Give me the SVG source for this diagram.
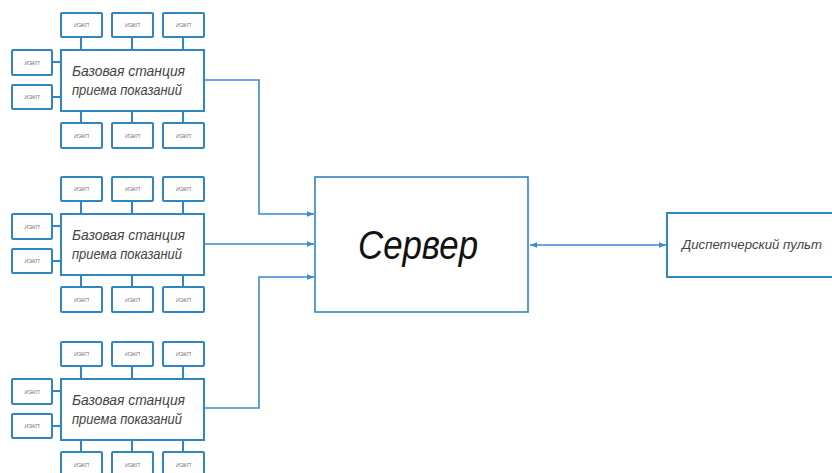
<svg xmlns="http://www.w3.org/2000/svg" width="832" height="473" viewBox="0 0 832 473">
<defs>
<style>
.box{fill:#fff;stroke:#2f86c0;stroke-width:2}
.sm{fill:#fff;stroke:#2f86c0;stroke-width:2}
.ln{fill:none;stroke:#2f86c0;stroke-width:2}
.cn{fill:none;stroke:#3a8ad4;stroke-width:1.6}
.st{font-family:"Liberation Sans",Arial,sans-serif;font-style:italic;font-size:15px;fill:#444;text-anchor:middle}
.tiny{font-family:"Liberation Sans",Arial,sans-serif;font-style:italic;font-size:5.5px;fill:#777;text-anchor:middle}
.srv{font-family:"Liberation Sans",Arial,sans-serif;font-style:italic;font-size:40px;fill:#111;text-anchor:middle}
.dp{font-family:"Liberation Sans",Arial,sans-serif;font-style:italic;font-size:12px;fill:#444}
</style>
<marker id="ah" viewBox="0 0 10 10" refX="10" refY="5" markerWidth="7" markerHeight="7" markerUnits="userSpaceOnUse" orient="auto-start-reverse">
<path d="M0,1 L10,5 L0,9 Z" fill="#3a8ad4"/>
</marker>
<g id="sub">
<line class="ln" x1="20" y1="24" x2="20" y2="37"/>
<line class="ln" x1="71" y1="24" x2="71" y2="37"/>
<line class="ln" x1="122" y1="24" x2="122" y2="37"/>
<line class="ln" x1="20" y1="98" x2="20" y2="110"/>
<line class="ln" x1="71" y1="98" x2="71" y2="110"/>
<line class="ln" x1="122" y1="98" x2="122" y2="110"/>
<line class="ln" x1="-9" y1="49" x2="0" y2="49"/>
<line class="ln" x1="-9" y1="84" x2="0" y2="84"/>
<rect class="sm" x="0" y="0" width="41" height="24" rx="1"/>
<rect class="sm" x="51" y="0" width="41" height="24" rx="1"/>
<rect class="sm" x="102" y="0" width="41" height="24" rx="1"/>
<rect class="sm" x="0" y="110" width="41" height="25" rx="1"/>
<rect class="sm" x="51" y="110" width="41" height="25" rx="1"/>
<rect class="sm" x="102" y="110" width="41" height="25" rx="1"/>
<rect class="sm" x="-49" y="37" width="40" height="25" rx="1"/>
<rect class="sm" x="-49" y="72" width="40" height="24" rx="1"/>
<text class="tiny" x="20.5" y="14">ИЭКП</text>
<text class="tiny" x="71.5" y="14">ИЭКП</text>
<text class="tiny" x="122.5" y="14">ИЭКП</text>
<text class="tiny" x="20.5" y="124.5">ИЭКП</text>
<text class="tiny" x="71.5" y="124.5">ИЭКП</text>
<text class="tiny" x="122.5" y="124.5">ИЭКП</text>
<text class="tiny" x="-29" y="51.5">ИЭКП</text>
<text class="tiny" x="-29" y="86">ИЭКП</text>
<rect class="box" x="0" y="37" width="143" height="61"/>
<text class="st" x="67.5" y="63" textLength="113" lengthAdjust="spacingAndGlyphs">Базовая станция</text>
<text class="st" x="66" y="82" textLength="110" lengthAdjust="spacingAndGlyphs">приема показаний</text>
</g>
</defs>
<g id="connectors">
<path class="cn" d="M204,80 H259 V214 H314" marker-end="url(#ah)"/>
<path class="cn" d="M204,244 H314" marker-end="url(#ah)"/>
<path class="cn" d="M204,408 H259 V277 H314" marker-end="url(#ah)"/>
<path class="cn" d="M530,245 H666" marker-start="url(#ah)" marker-end="url(#ah)"/>
</g>
<g id="station1"><use href="#sub" x="61" y="13"/></g>
<g id="station2"><use href="#sub" x="61" y="177"/></g>
<g id="station3"><use href="#sub" x="61" y="342"/></g>
<g id="server">
<rect x="315" y="177" width="213" height="135" fill="#fff" stroke="#2f86c0" stroke-width="1.6"/>
<text class="srv" x="418" y="259" textLength="120" lengthAdjust="spacingAndGlyphs">Сервер</text>
</g>
<g id="dispatch">
<rect x="667" y="213" width="170" height="64" fill="#fff" stroke="#2f86c0" stroke-width="2"/>
<text class="dp" x="682" y="249" textLength="140" lengthAdjust="spacingAndGlyphs">Диспетчерский пульт</text>
</g>
</svg>
